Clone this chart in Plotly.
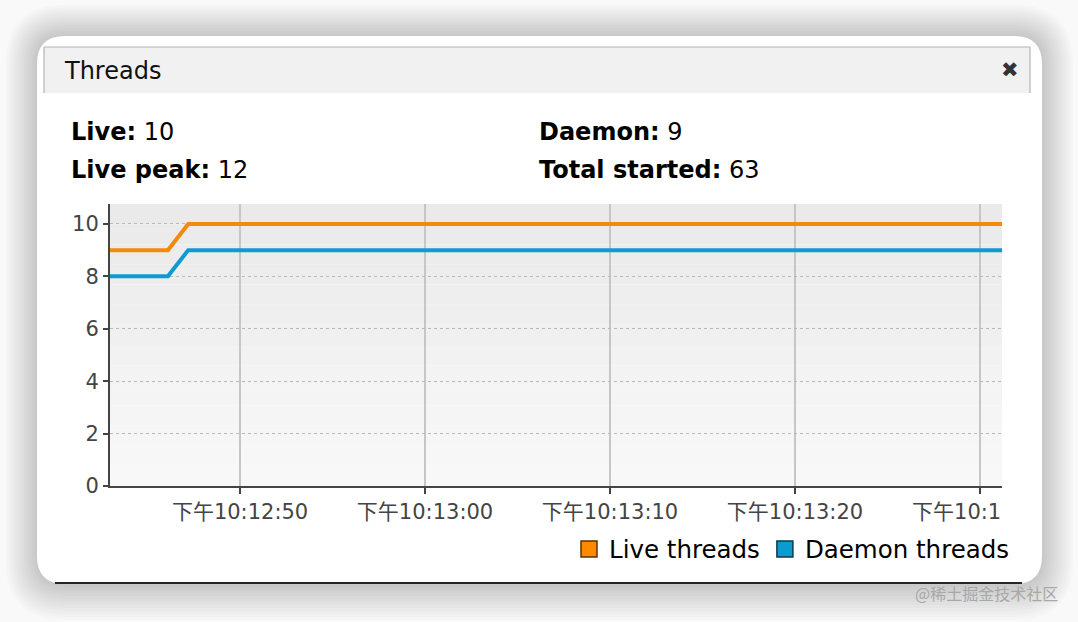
import plotly.graph_objects as go

# ---------------- data ----------------
times = ["2024-01-01 22:12:42.97", "2024-01-01 22:12:46.1", "2024-01-01 22:12:47.2", "2024-01-01 22:13:31.19"]
live_threads = [9, 9, 10, 10]
daemon_threads = [8, 8, 9, 9]

x_tick_vals = ["2024-01-01 22:12:50", "2024-01-01 22:13:00", "2024-01-01 22:13:10",
               "2024-01-01 22:13:20", "2024-01-01 22:13:30"]
# the last label is cut off at the plot's right edge in the original
x_tick_text = ["下午10:12:50", "下午10:13:00", "下午10:13:10", "下午10:13:20",
               "下午10:1" + "\u00a0" * 7]
y_tick_vals = [0, 2, 4, 6, 8, 10]

x_range = ["2024-01-01 22:12:42.97", "2024-01-01 22:13:31.19"]
y_range = [0, 10.76]

stats = [("Live:", "10"), ("Live peak:", "12"), ("Daemon:", "9"), ("Total started:", "63")]
panel_title = "Threads"
series_names = ["Live threads", "Daemon threads"]
colors = ["#f28a0c", "#0e9bd4"]
legend_colors = ["#ff8a00", "#0a9bd0"]
legend_borders = ["#5a3200", "#0c3a4e"]

# ---------------- layout helpers (pixel -> paper) ----------------
W, H = 1078, 622
PL, PR, PT, PB = 110, 1002, 204, 486


def px(x):
    return (x - PL) / (PR - PL)


def py(y):
    return (PB - y) / (PB - PT)


def rrect(x0, y0, x1, y1, r):
    pts = [
        f"M {px(x0 + r)},{py(y0)}",
        f"L {px(x1 - r)},{py(y0)}",
        f"Q {px(x1)},{py(y0)} {px(x1)},{py(y0 + r)}",
        f"L {px(x1)},{py(y1 - r)}",
        f"Q {px(x1)},{py(y1)} {px(x1 - r)},{py(y1)}",
        f"L {px(x0 + r)},{py(y1)}",
        f"Q {px(x0)},{py(y1)} {px(x0)},{py(y1 - r)}",
        f"L {px(x0)},{py(y0 + r)}",
        f"Q {px(x0)},{py(y0)} {px(x0 + r)},{py(y0)}",
        "Z",
    ]
    return " ".join(pts)


FONT = "DejaVu Sans, Noto Sans CJK SC, sans-serif"

fig = go.Figure()

for name, vals, c in zip(series_names, [live_threads, daemon_threads], colors):
    fig.add_trace(go.Scatter(
        x=times, y=vals, mode="lines", name=name, legendgroup=name,
        showlegend=False, line=dict(color=c, width=4), hoverinfo="skip",
    ))

for name, c, b in zip(series_names, legend_colors, legend_borders):
    fig.add_trace(go.Scatter(
        x=[None], y=[None], mode="markers", name=name, legendgroup=name,
        marker=dict(symbol="square", size=18, color=c, line=dict(color=b, width=1.5)),
    ))

shapes = []
# shadow around card
for i in range(12, 0, -1):
    e = i * 2.6
    shapes.append(dict(type="path", xref="paper", yref="paper", layer="below",
                       path=rrect(37 - e, 36 - e, 1042 + e, 584 + e * 1.15, 28 + e),
                       fillcolor="rgba(0,0,0,0.017)", line=dict(width=0)))
# card
shapes.append(dict(type="path", xref="paper", yref="paper", layer="below",
                   path=rrect(37, 36, 1042, 584, 28), fillcolor="white", line=dict(width=0)))
# bottom dark edge
shapes.append(dict(type="line", xref="paper", yref="paper", layer="below",
                   x0=px(55), x1=px(1022), y0=py(583), y1=py(583),
                   line=dict(color="#262626", width=2)))
# title bar
shapes.append(dict(type="rect", xref="paper", yref="paper", layer="below",
                   x0=px(44), x1=px(1030), y0=py(47), y1=py(93),
                   fillcolor="#f1f1f1", line=dict(width=0)))
for (x0, y0, x1, y1) in [(44, 47, 1030, 47), (44, 47, 44, 93), (1030, 47, 1030, 93)]:
    shapes.append(dict(type="line", xref="paper", yref="paper", layer="below",
                       x0=px(x0), x1=px(x1), y0=py(y0), y1=py(y1),
                       line=dict(color="#b4b4b4", width=1.2)))
# plot background gradient bands
n = 14
top_c, bot_c = (234, 234, 234), (248, 248, 248)
for i in range(n):
    t = i / (n - 1)
    c = tuple(round(top_c[k] + (bot_c[k] - top_c[k]) * t) for k in range(3))
    shapes.append(dict(type="rect", xref="paper", yref="paper", layer="below",
                       x0=0, x1=1, y0=1 - (i + 1) / n, y1=1 - i / n,
                       fillcolor=f"rgb{c}", line=dict(width=0)))

annotations = [
    dict(text=panel_title, x=px(62), y=py(71), xanchor="left", yanchor="middle",
         font=dict(size=24, color="#111", family=FONT)),
    dict(text="✖", x=px(1010), y=py(70), xanchor="center", yanchor="middle",
         font=dict(size=21, color="#333", family=FONT)),
    dict(text="@稀土掘金技术社区", x=px(1060), y=py(593), xanchor="right", yanchor="middle",
         font=dict(size=16, color="#a8a8a8", family="Noto Sans CJK SC")),
]
stat_pos = [(69, 132), (69, 170), (537, 132), (537, 170)]
for (label, val), (sx, sy) in zip(stats, stat_pos):
    annotations.append(dict(text=f"<b>{label}</b> {val}", x=px(sx), y=py(sy),
                            xanchor="left", yanchor="middle",
                            font=dict(size=24, color="#000", family=FONT)))
for a in annotations:
    a.update(xref="paper", yref="paper", showarrow=False)

fig.update_layout(
    width=W, height=H,
    margin=dict(l=PL, r=W - PR, t=PT, b=H - PB, pad=0),
    paper_bgcolor="#f9f9f9",
    plot_bgcolor="rgba(0,0,0,0)",
    font=dict(family=FONT, color="#444"),
    shapes=shapes,
    annotations=annotations,
    showlegend=True,
    legend=dict(orientation="h", x=px(1015), xanchor="right", y=py(549), yanchor="middle",
                font=dict(size=24.5, color="#000", family=FONT), bgcolor="rgba(0,0,0,0)",
                itemclick=False, itemdoubleclick=False, traceorder="normal"),
    xaxis=dict(
        type="date", range=x_range, tickmode="array", tickvals=x_tick_vals, ticktext=x_tick_text,
        showgrid=True, gridcolor="#c6c6c6", gridwidth=2,
        showline=True, linecolor="#444", linewidth=2,
        ticks="outside", ticklen=6, tickwidth=2, tickcolor="#444",
        tickfont=dict(size=21, color="#444"), zeroline=False, fixedrange=True,
    ),
    yaxis=dict(
        range=y_range, tickmode="array", tickvals=y_tick_vals,
        showgrid=True, gridcolor="#b9b9b9", gridwidth=1, griddash="dot",
        showline=True, linecolor="#444", linewidth=2,
        ticks="outside", ticklen=5, tickwidth=2, tickcolor="#444",
        tickfont=dict(size=21, color="#444"), zeroline=False, fixedrange=True,
    ),
)

fig.write_html("out.html", config=dict(displayModeBar=False),
               post_script="document.body.style.margin='0';document.body.style.padding='0';")
